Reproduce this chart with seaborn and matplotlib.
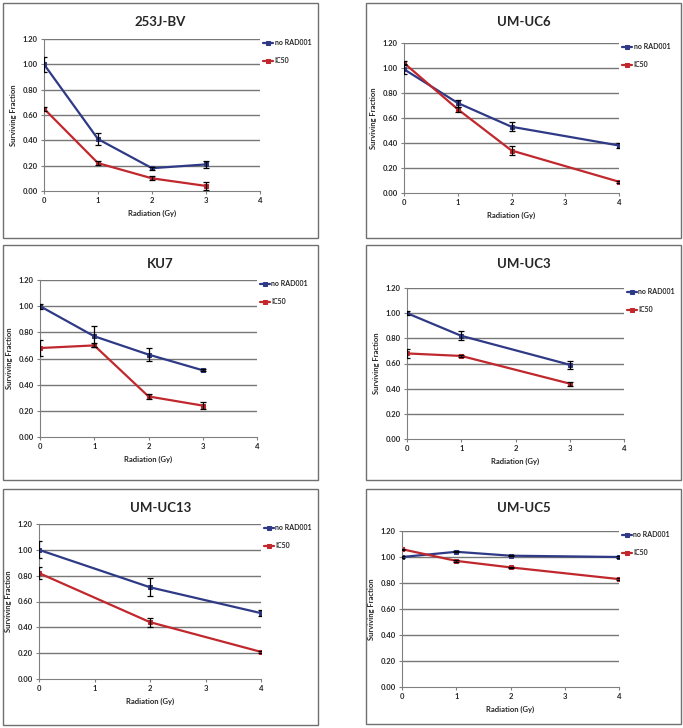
import matplotlib
matplotlib.use("Agg")
import matplotlib.pyplot as plt
import seaborn as sns
from matplotlib.patches import Rectangle

# --- data ---
titles = ["253J-BV", "UM-UC6", "KU7", "UM-UC3", "UM-UC13", "UM-UC5"]
doses = [[0, 1, 2, 3], [0, 1, 2, 4], [0, 1, 2, 3], [0, 1, 3], [0, 2, 4], [0, 1, 2, 4]]

no_rad = [[1.00, 0.41, 0.18, 0.21],
          [0.99, 0.72, 0.53, 0.38],
          [1.00, 0.77, 0.63, 0.51],
          [1.00, 0.82, 0.59],
          [1.00, 0.71, 0.51],
          [1.00, 1.04, 1.01, 1.00]]
no_rad_err = [[0.06, 0.045, 0.012, 0.03],
              [0.04, 0.028, 0.035, 0.02],
              [0.02, 0.08, 0.05, 0.006],
              [0.015, 0.035, 0.03],
              [0.065, 0.07, 0.022],
              [0.005, 0.005, 0.005, 0.005]]
ic50 = [[0.65, 0.22, 0.10, 0.04],
        [1.04, 0.67, 0.34, 0.09],
        [0.68, 0.70, 0.31, 0.24],
        [0.68, 0.66, 0.44],
        [0.82, 0.44, 0.21],
        [1.06, 0.97, 0.92, 0.83]]
ic50_err = [[0.015, 0.015, 0.015, 0.03],
            [0.015, 0.02, 0.035, 0.008],
            [0.06, 0.015, 0.02, 0.025],
            [0.035, 0.01, 0.015],
            [0.045, 0.035, 0.006],
            [0.005, 0.005, 0.005, 0.005]]

series_labels = ["no RAD001", "IC50"]
series_colors = ["#2f3a86", "#c0282e"]
y_ticks = [0.0, 0.2, 0.4, 0.6, 0.8, 1.0, 1.2]
x_ticks = [0, 1, 2, 3, 4]

# --- layout in pixels (x0, x4, y at 1.20, y at 0) and panel boxes ---
W, H = 683, 728
axes_px = [(44, 260, 39, 191), (404, 619, 43, 193),
           (40, 257, 280, 437), (407, 624, 288, 439),
           (39, 261, 524, 679), (402, 619, 531, 687)]
box_px = [(3, 318, 3, 238), (366, 681, 3, 238),
          (3, 318, 245, 480), (366, 681, 245, 480),
          (3, 318, 489, 725), (366, 681, 489, 724)]

sns.set_style("white")
plt.rcParams['font.family'] = ['Lato', 'DejaVu Sans']
plt.rcParams['font.weight'] = 'bold'

fig = plt.figure(figsize=(W / 100, H / 100), dpi=100)

for i in range(6):
    bx0, bx1, by0, by1 = box_px[i]
    fig.patches.append(Rectangle((bx0 / W, 1 - by1 / H), (bx1 - bx0) / W, (by1 - by0) / H,
                                 transform=fig.transFigure, fill=False,
                                 edgecolor="#707070", linewidth=1.0))
    ax0, ax1, ay_top, ay_bot = axes_px[i]
    ax = fig.add_axes([ax0 / W, 1 - ay_bot / H, (ax1 - ax0) / W, (ay_bot - ay_top) / H])

    for ys, es, lab, col in zip([no_rad[i], ic50[i]], [no_rad_err[i], ic50_err[i]],
                                series_labels, series_colors):
        sns.lineplot(x=doses[i], y=ys, color=col, marker="s", markersize=3,
                     markeredgecolor=col, linewidth=1.6, label=lab, ax=ax)
        ax.errorbar(doses[i], ys, yerr=es, fmt="none", ecolor="black",
                    elinewidth=0.9, capsize=2.2, capthick=0.9, zorder=5)

    ax.set_xlim(0, 4)
    ax.set_ylim(0, 1.2)
    ax.set_xticks(x_ticks)
    ax.set_yticks(y_ticks)
    ax.set_yticklabels([f"{v:.2f}" for v in y_ticks])
    for v in y_ticks[1:]:
        ax.axhline(v, color="#777777", linewidth=1.0, zorder=0)
    for s in ["top", "right"]:
        ax.spines[s].set_visible(False)
    ax.spines["left"].set_color("#808080")
    ax.spines["bottom"].set_color("#808080")
    ax.tick_params(axis="both", labelsize=5.5, length=2.5, width=0.8,
                   color="#808080", direction="out", pad=2, bottom=True, left=True)
    ax.set_xlabel("Radiation (Gy)", fontsize=5.5, fontweight="bold", labelpad=4)
    ax.set_ylabel("Surviving Fraction", fontsize=5.5, fontweight="bold", labelpad=4)

    ax.legend(loc="upper left", bbox_to_anchor=(0.99, 1.03), frameon=False,
              fontsize=5.0, handlelength=1.5, handletextpad=0.2, labelspacing=1.6,
              borderaxespad=0.3)

    fig.text((bx0 + bx1) / 2 / W, 1 - (by0 + 19) / H, titles[i], ha="center",
             va="center", fontsize=9.5, fontweight="bold")

fig.savefig("out.png", dpi=100)
